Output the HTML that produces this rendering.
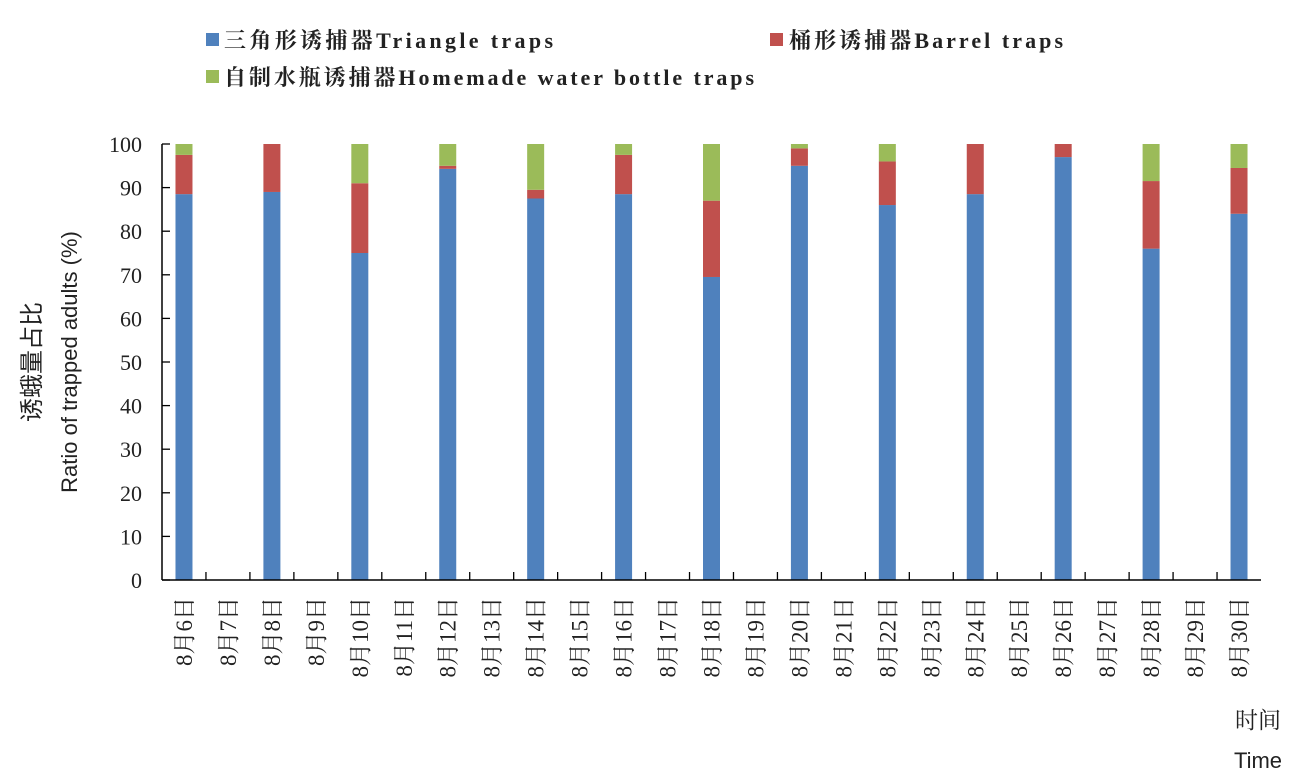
<!DOCTYPE html>
<html><head><meta charset="utf-8"><style>
body{margin:0;background:#fff;width:1299px;height:780px;overflow:hidden}
svg{display:block}
.s{font-family:"Liberation Serif","Noto Serif CJK SC",serif}
.a{font-family:"Liberation Sans","Noto Sans CJK SC",sans-serif}
</style></head><body>
<svg id="c" width="1299" height="780">
<g>
<rect x="206" y="33" width="13" height="13" fill="#4f81bd"/>
<text x="224" y="48" class="s" font-size="22" font-weight="bold" fill="#222" textLength="329" lengthAdjust="spacing">三角形诱捕器Triangle traps</text>
<rect x="770" y="33" width="13" height="13" fill="#c0504d"/>
<text x="789" y="48" class="s" font-size="22" font-weight="bold" fill="#222" textLength="274" lengthAdjust="spacing">桶形诱捕器Barrel traps</text>
<rect x="206" y="70" width="13" height="13" fill="#9bbb59"/>
<text x="224" y="85" class="s" font-size="22" font-weight="bold" fill="#222" textLength="530" lengthAdjust="spacing">自制水瓶诱捕器Homemade water bottle traps</text>
</g>
<g transform="translate(40,362) rotate(-90)"><text x="0" y="0" text-anchor="middle" class="a" font-size="24" fill="#222">诱蛾量占比</text></g>
<g transform="translate(77,362) rotate(-90)"><text x="0" y="0" text-anchor="middle" class="a" font-size="22" fill="#222">Ratio of trapped adults (%)</text></g>
<text x="1258" y="728" text-anchor="middle" class="s" font-size="23" fill="#222">时间</text>
<text x="1258" y="768" text-anchor="middle" class="a" font-size="22" fill="#222">Time</text>
<g id="plot"></g>
</svg>
<script>
const days=[6,7,8,9,10,11,12,13,14,15,16,17,18,19,20,21,22,23,24,25,26,27,28,29,30];
const triangle=[88.5,0,89,0,75,0,94.3,0,87.5,0,88.5,0,69.5,0,95,0,86,0,88.5,0,97,0,76,0,84];
const barrel=[9,0,11,0,16,0,0.7,0,2,0,9,0,17.5,0,4,0,10,0,11.5,0,3,0,15.5,0,10.5];
const bottle=[2.5,0,0,0,9,0,5,0,10.5,0,2.5,0,13,0,1,0,4,0,0,0,0,0,8.5,0,5.5];
const yTicks=[0,10,20,30,40,50,60,70,80,90,100];
const NS="http://www.w3.org/2000/svg";
const g=document.getElementById('plot');
const L=162,R=1261,T=144,B=580,cw=(R-L)/days.length,bw=17;
const y=v=>B-(B-T)*v/100;
const x=i=>L+cw*(i+0.5);
function mk(t,a){const e=document.createElementNS(NS,t);for(const k in a)e.setAttribute(k,a[k]);g.appendChild(e);return e;}
yTicks.forEach(v=>{
 const t=mk('line',{x1:L,x2:L+8,y1:y(v),y2:y(v),stroke:'#000','stroke-width':1.3});
 
 
 const l=mk('text',{x:L-20,y:y(v)+8,'text-anchor':'end','font-size':22,'class':'s',fill:'#222'});
 l.textContent=v;
 
 
});
days.forEach((d,i)=>{
 let base=0;
 [[triangle,'#4f81bd','triangle'],[barrel,'#c0504d','barrel'],[bottle,'#9bbb59','bottle']].forEach(([arr,col,n])=>{
  const v=arr[i];
  if(v>0){
   const r=mk('rect',{x:x(i)-bw/2,y:y(base+v),width:bw,height:y(base)-y(base+v),fill:col});
   
   
  }
  base+=v;
 });
 if(i>0){const t=mk('line',{x1:L+cw*i,x2:L+cw*i,y1:B,y2:B-8,stroke:'#000','stroke-width':1.3});
 
 }
 const tx=mk('text',{transform:`translate(${x(i)+8},597) rotate(-90)`,'text-anchor':'end','font-size':23,'class':'s',fill:'#222'});
 tx.textContent='8月'+d+'日';
 
 
});
const ya=mk('line',{x1:L,x2:L,y1:T,y2:B,stroke:'#000','stroke-width':1.5});


const xa=mk('line',{x1:L,x2:R,y1:B,y2:B,stroke:'#000','stroke-width':1.5});


</script>
</body></html>
